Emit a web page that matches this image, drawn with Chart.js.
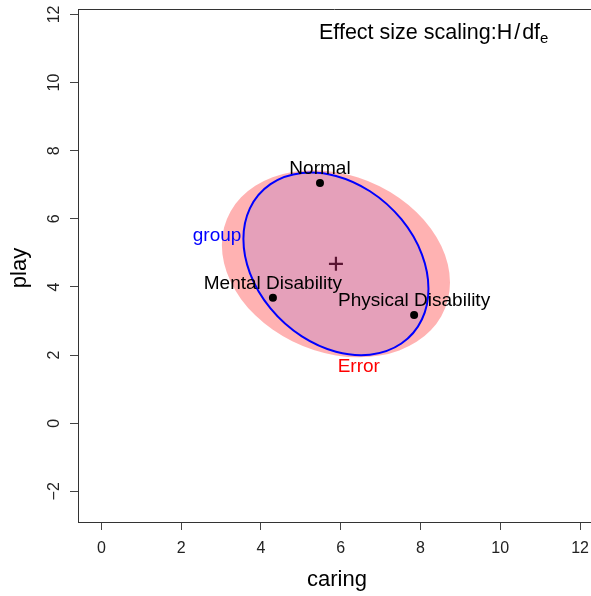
<!DOCTYPE html>
<html>
<head>
<meta charset="utf-8">
<script src="https://cdn.jsdelivr.net/npm/chart.js@4.4.1/dist/chart.umd.min.js"></script>
<style>
  html, body { margin: 0; padding: 0; background: #ffffff; overflow: hidden; }
  #wrap { width: 591px; height: 596px; }
</style>
</head>
<body>
<div id="wrap"><canvas id="c" width="591" height="596"></canvas></div>
<script>
// ---- data ----
const groupNames = ["Normal", "Mental Disability", "Physical Disability"];
const caringMeans = [5.48, 4.30, 7.84];
const playMeans = [7.05, 3.68, 3.18];
const grandMean = [5.88, 4.68];           // caring, play
// ellipse shape matrices (lower-triangular factor): [a, b, c] => x = a*cos, y = b*cos + c*sin
const hypShape = [2.32, -0.73, 2.58];      // group (H) ellipse
const errShape = [2.86, -0.55, 2.69];      // Error (E) ellipse
const ellipseLabels = ["group", "Error"];
const xTicks = [0, 2, 4, 6, 8, 10, 12];
const yTicks = [-2, 0, 2, 4, 6, 8, 10, 12];
const xTitle = "caring";
const yTitle = "play";
const xRange = [-0.587, 12.275];
const yRange = [-2.90, 12.16];

const FONT = "'Liberation Sans', Arial, Helvetica, sans-serif";

function ellipsePath(ctx, xs, ys, center, shape) {
  const X0 = xs.getPixelForValue(center[0]);
  const Y0 = ys.getPixelForValue(center[1]);
  const sx = xs.getPixelForValue(1) - xs.getPixelForValue(0);
  const sy = ys.getPixelForValue(0) - ys.getPixelForValue(1);
  ctx.save();
  ctx.transform(sx * shape[0], -sy * shape[1], 0, -sy * shape[2], X0, Y0);
  ctx.beginPath();
  ctx.arc(0, 0, 1, 0, Math.PI * 2);
  ctx.closePath();
  ctx.restore();
}

const hePlugin = {
  id: 'he',
  beforeDatasetsDraw(chart) {
    const ctx = chart.ctx, xs = chart.scales.x, ys = chart.scales.y;
    ellipsePath(ctx, xs, ys, grandMean, errShape);
    ctx.fillStyle = 'rgba(255,0,0,0.3)';
    ctx.fill();
    ellipsePath(ctx, xs, ys, grandMean, hypShape);
    ctx.fillStyle = 'rgba(0,0,255,0.1)';
    ctx.fill();
    ctx.lineWidth = 2;
    ctx.strokeStyle = '#0000ff';
    ctx.stroke();
  },
  afterDatasetsDraw(chart) {
    const ctx = chart.ctx, xs = chart.scales.x, ys = chart.scales.y;
    const ca = chart.chartArea;
    ctx.save();
    ctx.strokeStyle = '#333';
    ctx.lineWidth = 1;
    ctx.beginPath();
    ctx.moveTo(ca.left, Math.round(ca.top) + 0.5);
    ctx.lineTo(ca.right, Math.round(ca.top) + 0.5);
    ctx.stroke();

    // group mean labels
    ctx.fillStyle = '#000';
    ctx.font = '19px ' + FONT;
    ctx.textAlign = 'center';
    ctx.textBaseline = 'middle';
    for (let i = 0; i < groupNames.length; i++) {
      const px = xs.getPixelForValue(caringMeans[i]);
      const py = ys.getPixelForValue(playMeans[i]);
      ctx.fillText(groupNames[i], px, py - 14);
    }
    {
      const lx = xs.getPixelForValue(grandMean[0] - hypShape[0]);
      const ly = ys.getPixelForValue(grandMean[1] - hypShape[1]);
      ctx.fillStyle = '#0000ff';
      ctx.textAlign = 'right';
      ctx.textBaseline = 'middle';
      ctx.fillText(ellipseLabels[0], lx - 2, ly - 3);
      const hh = Math.hypot(errShape[1], errShape[2]);
      const bx = xs.getPixelForValue(grandMean[0] - errShape[0] * errShape[1] / hh);
      const by = ys.getPixelForValue(grandMean[1] - hh);
      ctx.fillStyle = '#ff0000';
      ctx.textAlign = 'center';
      ctx.textBaseline = 'middle';
      ctx.fillText(ellipseLabels[1], bx, by + 9);
    }
    // tick labels
    ctx.fillStyle = '#222';
    ctx.font = '16px ' + FONT;
    ctx.textAlign = 'center';
    ctx.textBaseline = 'middle';
    xTicks.forEach(v => {
      ctx.fillText(String(v).replace('-', '\u2212'), xs.getPixelForValue(v), 549);
    });
    yTicks.forEach(v => {
      ctx.save();
      ctx.translate(55, ys.getPixelForValue(v));
      ctx.rotate(-Math.PI / 2);
      ctx.fillText(String(v).replace('-', '\u2212'), 0, 0);
      ctx.restore();
    });
    // axis titles
    ctx.fillStyle = '#000';
    ctx.font = '22px ' + FONT;
    ctx.fillText(xTitle, 337, 580);
    ctx.save();
    ctx.translate(20, 268);
    ctx.rotate(-Math.PI / 2);
    ctx.fillText(yTitle, 0, 0);
    ctx.restore();

    // scaling note
    ctx.textAlign = 'left';
    ctx.textBaseline = 'alphabetic';
    let x = 319;
    const base = 39;
    ctx.font = '21.5px ' + FONT;
    const p1 = 'Effect size scaling:H';
    ctx.fillText(p1, x, base); x += ctx.measureText(p1).width + 2;
    ctx.fillText('/', x, base); x += ctx.measureText('/').width + 2;
    ctx.fillText('df', x, base); x += ctx.measureText('df').width;
    ctx.font = '15px ' + FONT;
    ctx.fillText('e', x, base + 4);
    ctx.restore();
  }
};

const ctx = document.getElementById('c').getContext('2d');
new Chart(ctx, {
  type: 'scatter',
  data: {
    datasets: [
      {
        label: 'means',
        data: caringMeans.map((v, i) => ({ x: v, y: playMeans[i] })),
        pointRadius: 4,
        pointBackgroundColor: '#000',
        pointBorderColor: '#000',
        pointBorderWidth: 0
      },
      {
        label: 'grand mean',
        data: [{ x: grandMean[0], y: grandMean[1] }],
        pointStyle: 'cross',
        pointRadius: 7,
        pointBorderWidth: 2.2,
        pointBorderColor: '#5a1432',
        pointBackgroundColor: '#5a1432'
      }
    ]
  },
  plugins: [hePlugin],
  options: {
    responsive: false,
    animation: false,
    events: [],
    layout: { autoPadding: false, padding: { left: 0, right: 0, top: 9, bottom: 0 } },
    plugins: { legend: { display: false }, tooltip: { enabled: false } },
    scales: {
      x: {
        type: 'linear',
        min: xRange[0], max: xRange[1],
        afterBuildTicks: s => { s.ticks = xTicks.map(v => ({ value: v })); },
        afterFit: s => { s.height = 74; s.paddingLeft = 0; s.paddingRight = 0; },
        ticks: { display: false, autoSkip: false },
        grid: { display: true, drawOnChartArea: false, drawTicks: true, tickLength: 8, color: '#444', lineWidth: 1 },
        border: { display: true, color: '#333', width: 1 }
      },
      y: {
        type: 'linear',
        min: yRange[0], max: yRange[1],
        afterBuildTicks: s => { s.ticks = yTicks.map(v => ({ value: v })); },
        afterFit: s => { s.width = 78; s.paddingTop = 0; s.paddingBottom = 0; },
        ticks: { display: false, autoSkip: false },
        grid: { display: true, drawOnChartArea: false, drawTicks: true, tickLength: 8, color: '#444', lineWidth: 1 },
        border: { display: true, color: '#333', width: 1 }
      }
    }
  }
});
</script>
</body>
</html>
